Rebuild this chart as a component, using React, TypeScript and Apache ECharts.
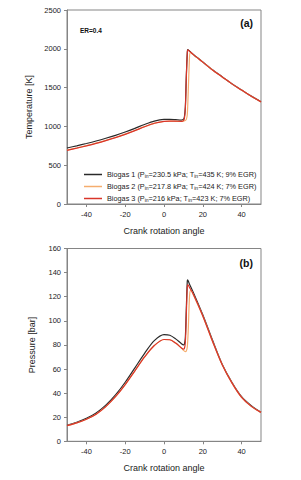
import React, { useEffect, useRef } from "react";
import * as echarts from "echarts";

const FONT = "Liberation Sans, Arial, sans-serif";

const seriesNames = ["Biogas 1", "Biogas 2", "Biogas 3"];
const seriesColors = ["#2a2a2a", "#f5ad6e", "#d9352a"];
const legendP = ["230.5", "217.8", "216"];
const legendT = ["435", "424", "423"];
const legendEGR = ["9", "7", "7"];

// Temperature (a)
const angleT1 = [-50, -45, -40, -35, -30, -25, -20, -15, -10, -5, 0, 3, 6, 9, 10, 10.5, 11, 11.5, 12, 12.2, 13, 15, 20, 25, 30, 35, 40, 45, 50];
const temp1 = [722, 750, 780, 812, 847, 885, 928, 975, 1025, 1068, 1090, 1091, 1087, 1082, 1090, 1120, 1250, 1650, 1950, 1990, 1975, 1930, 1830, 1730, 1640, 1550, 1470, 1390, 1318];
const angleT2 = [-50, -45, -40, -35, -30, -25, -20, -15, -10, -5, 0, 3, 6, 9, 10, 11, 11.5, 12, 12.5, 13, 13.4, 14, 15, 20, 25, 30, 35, 40, 45, 50];
const temp2 = [694, 722, 752, 784, 819, 857, 900, 947, 997, 1040, 1063, 1067, 1066, 1065, 1068, 1075, 1090, 1150, 1450, 1800, 1950, 1948, 1925, 1828, 1728, 1638, 1548, 1468, 1388, 1316];
const angleT3 = [-50, -45, -40, -35, -30, -25, -20, -15, -10, -5, 0, 3, 6, 9, 10, 10.5, 11, 11.5, 12, 12.3, 13, 15, 20, 25, 30, 35, 40, 45, 50];
const temp3 = [692, 720, 750, 782, 817, 855, 898, 945, 995, 1040, 1064, 1068, 1067, 1066, 1075, 1100, 1230, 1620, 1940, 1985, 1972, 1928, 1828, 1728, 1638, 1548, 1468, 1388, 1316];

// Pressure (b)
const angleP1 = [-50, -45, -40, -35, -30, -25, -20, -15, -10, -5, 0, 3, 6, 9, 10, 10.5, 11, 11.5, 12, 12.2, 13, 15, 20, 25, 30, 35, 40, 45, 50];
const pres1 = [13.3, 15.8, 19, 23.5, 30, 38.5, 49, 61, 73, 83.5, 88.5, 88, 85, 81, 80, 80.5, 86, 110, 133, 134, 131, 124, 105, 84, 64, 49, 37, 29.5, 24];
const angleP2 = [-50, -45, -40, -35, -30, -25, -20, -15, -10, -5, 0, 3, 6, 9, 10, 11, 11.5, 12, 12.5, 13, 13.5, 14, 15, 20, 25, 30, 35, 40, 45, 50];
const pres2 = [13, 15.3, 18.3, 22.5, 28.8, 37, 47, 58.5, 70, 79.5, 84.5, 84.3, 81.5, 77.3, 75.5, 74.5, 75, 78, 92, 115, 125, 125, 122, 104, 83, 63.5, 48.5, 36.5, 29, 24];
const angleP3 = [-50, -45, -40, -35, -30, -25, -20, -15, -10, -5, 0, 3, 6, 9, 10, 10.5, 11, 11.5, 12, 12.3, 13, 15, 20, 25, 30, 35, 40, 45, 50];
const pres3 = [13, 15.3, 18.3, 22.5, 28.8, 37, 47, 58.5, 70, 79.5, 84.5, 84.3, 81.5, 77.5, 76.5, 77, 82, 105, 128, 130, 128, 122.5, 104, 83, 63.5, 48.5, 36.5, 29, 24];

const tempAngles = [angleT1, angleT2, angleT3];
const tempValues = [temp1, temp2, temp3];
const presAngles = [angleP1, angleP2, angleP3];
const presValues = [pres1, pres2, pres3];

const axisColor = "#858585";

function makeX(gridIndex: number) {
  return {
    type: "value",
    gridIndex,
    min: -50,
    max: 50,
    splitNumber: 5,
    name: "Crank rotation angle",
    nameLocation: "middle",
    nameGap: 22,
    nameTextStyle: { fontFamily: FONT, fontSize: 9, color: "#222" },
    axisLine: { show: true, onZero: false, lineStyle: { color: axisColor, width: 1 } },
    axisTick: { show: true, length: 3, lineStyle: { color: axisColor } },
    axisLabel: {
      fontFamily: FONT,
      fontSize: 7.5,
      color: "#222",
      margin: 6,
      showMinLabel: false,
      showMaxLabel: false,
      formatter: (v: number) => (v % 20 === 0 ? String(v) : ""),
    },
    splitLine: { show: false },
  };
}

function makeY(gridIndex: number, name: string, max: number, interval: number) {
  return {
    type: "value",
    gridIndex,
    min: 0,
    max,
    interval,
    name,
    nameLocation: "middle",
    nameGap: 31,
    nameTextStyle: { fontFamily: FONT, fontSize: 9, color: "#222" },
    axisLine: { show: true, onZero: false, lineStyle: { color: axisColor, width: 1 } },
    axisTick: { show: true, length: 3, lineStyle: { color: axisColor } },
    axisLabel: { fontFamily: FONT, fontSize: 7.5, color: "#222", margin: 6, formatter: (v: number) => String(v) },
    splitLine: { show: false },
  };
}

export default function App() {
  const ref = useRef<HTMLDivElement>(null);
  useEffect(() => {
    document.body.style.margin = "0";
    if (!ref.current) return;
    const chart = echarts.init(ref.current, undefined, { renderer: "svg" });
    const series: any[] = [];
    for (let i = 0; i < 3; i++) {
      series.push({
        name: seriesNames[i],
        type: "line",
        xAxisIndex: 0,
        yAxisIndex: 0,
        data: tempAngles[i].map((a, j) => [a, tempValues[i][j]]),
        showSymbol: false,
        smooth: 0.3,
        lineStyle: { color: seriesColors[i], width: 1.2 },
        itemStyle: { color: seriesColors[i] },
      });
    }
    for (let i = 0; i < 3; i++) {
      series.push({
        name: seriesNames[i],
        type: "line",
        xAxisIndex: 1,
        yAxisIndex: 1,
        data: presAngles[i].map((a, j) => [a, presValues[i][j]]),
        showSymbol: false,
        smooth: 0.3,
        lineStyle: { color: seriesColors[i], width: 1.2 },
        itemStyle: { color: seriesColors[i] },
      });
    }
    chart.setOption({
      animation: false,
      grid: [
        { left: 67, top: 10, width: 194, height: 194, show: true, borderColor: axisColor, borderWidth: 1 },
        { left: 67, top: 248.5, width: 194, height: 192.8, show: true, borderColor: axisColor, borderWidth: 1 },
      ],
      xAxis: [makeX(0), makeX(1)],
      yAxis: [makeY(0, "Temperature [K]", 2500, 500), makeY(1, "Pressure [bar]", 160, 20)],
      legend: {
        data: seriesNames,
        orient: "vertical",
        left: 79,
        top: 166,
        itemWidth: 18,
        itemHeight: 1.5,
        itemGap: 4.5,
        icon: "rect",
        selectedMode: false,
        formatter: (name: string) => {
          const i = seriesNames.indexOf(name);
          return `${name} (P{s|in}=${legendP[i]} kPa; T{s|in}=${legendT[i]} K; ${legendEGR[i]}% EGR)`;
        },
        textStyle: {
          fontFamily: FONT,
          fontSize: 7.3,
          color: "#222",
          rich: {
            s: { fontFamily: FONT, fontSize: 5, color: "#222", verticalAlign: "bottom", padding: [3, 0, 0, 0] },
          },
        },
      },
      graphic: [
        { type: "text", x: 80, y: 30.7, style: { text: "ER=0.4", font: `bold 6.5px ${FONT}`, fill: "#111", textVerticalAlign: "middle" } },
        { type: "text", x: 253, y: 22.7, style: { text: "(a)", font: `bold 10.5px ${FONT}`, fill: "#111", textAlign: "right", textVerticalAlign: "middle" } },
        { type: "text", x: 253, y: 263.3, style: { text: "(b)", font: `bold 10.5px ${FONT}`, fill: "#111", textAlign: "right", textVerticalAlign: "middle" } },
      ],
      series,
    });
    return () => chart.dispose();
  }, []);
  return <div ref={ref} style={{ width: 301, height: 480 }} />;
}
